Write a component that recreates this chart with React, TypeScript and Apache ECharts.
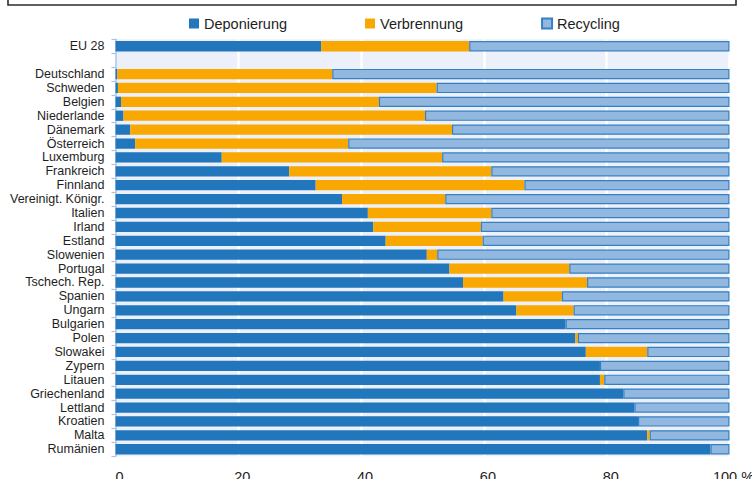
import React, { useEffect, useRef } from "react";
import * as echarts from "echarts";

const categories = [
  "EU 28", "", "Deutschland", "Schweden", "Belgien", "Niederlande", "Dänemark", "Österreich",
  "Luxemburg", "Frankreich", "Finnland", "Vereinigt. Königr.", "Italien", "Irland", "Estland",
  "Slowenien", "Portugal", "Tschech. Rep.", "Spanien", "Ungarn", "Bulgarien", "Polen",
  "Slowakei", "Zypern", "Litauen", "Griechenland", "Lettland", "Kroatien", "Malta", "Rumänien",
];

const deponierung = [
  33.5, null, 0.3, 0.4, 0.9, 1.3, 2.4, 3.2, 17.3, 28.3, 32.6, 36.9, 41.1, 42.0, 44.0,
  50.7, 54.4, 56.6, 63.2, 65.3, 73.3, 74.9, 76.6, 78.9, 78.9, 82.7, 84.5, 85.1, 86.6, 96.9,
];
const verbrennung = [
  24.1, null, 35.0, 51.9, 42.0, 49.1, 52.4, 34.7, 35.9, 32.9, 34.0, 16.8, 20.1, 17.5, 15.8,
  1.7, 19.5, 20.2, 9.5, 9.3, 0, 0.4, 10.0, 0, 0.7, 0, 0, 0, 0.4, 0,
];
const recycling = [
  42.4, null, 64.7, 47.7, 57.1, 49.6, 45.2, 62.1, 46.8, 38.8, 33.4, 46.3, 38.8, 40.5, 40.2,
  47.6, 26.1, 23.2, 27.3, 25.4, 26.7, 24.7, 13.4, 21.1, 20.4, 17.3, 15.5, 14.9, 13.0, 3.1,
];

const xTicks = [0, 20, 40, 60, 80, 100];

const FONT = "'Liberation Sans', Arial, sans-serif";

export default function App() {
  const ref = useRef<HTMLDivElement>(null);
  useEffect(() => {
    if (!ref.current) return;
    const chart = echarts.init(ref.current, null, { renderer: "svg" });
    chart.setOption({
      animation: false,
      backgroundColor: "#ffffff",
      textStyle: { fontFamily: FONT },
      graphic: [
        {
          type: "rect",
          shape: { x: 8, y: -20, width: 728, height: 25 },
          style: { fill: "none", stroke: "#2b2b2b", lineWidth: 1.6 },
          silent: true,
        },
      ],
      legend: {
        left: 184,
        top: 11,
        itemWidth: 10,
        itemHeight: 10,
        itemGap: 78,
        icon: "rect",
        textStyle: { fontSize: 14.5, color: "#1e1e1e", fontFamily: FONT },
        data: ["Deponierung", "Verbrennung", "Recycling"],
      },
      grid: {
        left: 115.5,
        right: 22.5,
        top: 39.3,
        bottom: 22.8,
        show: true,
        backgroundColor: "#ecf0fa",
        borderWidth: 0,
        containLabel: false,
        outerBoundsMode: "none",
      },
      xAxis: {
        type: "value",
        min: 0,
        max: 100,
        interval: 20,
        axisLine: { show: false },
        axisTick: { show: false },
        splitLine: { show: true, lineStyle: { color: "#ffffff", width: 2.5 } },
        axisLabel: {
          margin: 13,
          fontSize: 14.5,
          color: "#1e1e1e",
          fontFamily: FONT,
          padding: [0, 0, 0, 8],
          formatter: (v: number) => (xTicks.includes(v) ? (v === 100 ? "100 %" : String(v)) : ""),
        },
      },
      yAxis: {
        type: "category",
        data: categories,
        inverse: true,
        axisLine: { show: true, lineStyle: { color: "#a9c3e8", width: 1.5 } },
        axisTick: { show: true, length: 4, lineStyle: { color: "#a9c3e8", width: 1.2 } },
        splitLine: { show: false },
        axisLabel: {
          margin: 11,
          fontSize: 12.5,
          color: "#1e1e1e",
          fontFamily: FONT,
          interval: 0,
        },
      },
      series: [
        {
          name: "Deponierung",
          type: "bar",
          stack: "total",
          data: deponierung,
          barCategoryGap: "26%",
          itemStyle: { color: "#2176bc" },
        },
        {
          name: "Verbrennung",
          type: "bar",
          stack: "total",
          data: verbrennung,
          barCategoryGap: "26%",
          itemStyle: { color: "#f8a800" },
        },
        {
          name: "Recycling",
          type: "bar",
          stack: "total",
          data: recycling,
          barCategoryGap: "26%",
          itemStyle: { color: "#93b8df", borderColor: "#3480c3", borderWidth: 1.2 },
        },
      ],
    });
    return () => chart.dispose();
  }, []);
  return (
    <div
      ref={ref}
      style={{ position: "fixed", left: 0, top: 0, width: 752, height: 479 }}
    />
  );
}
